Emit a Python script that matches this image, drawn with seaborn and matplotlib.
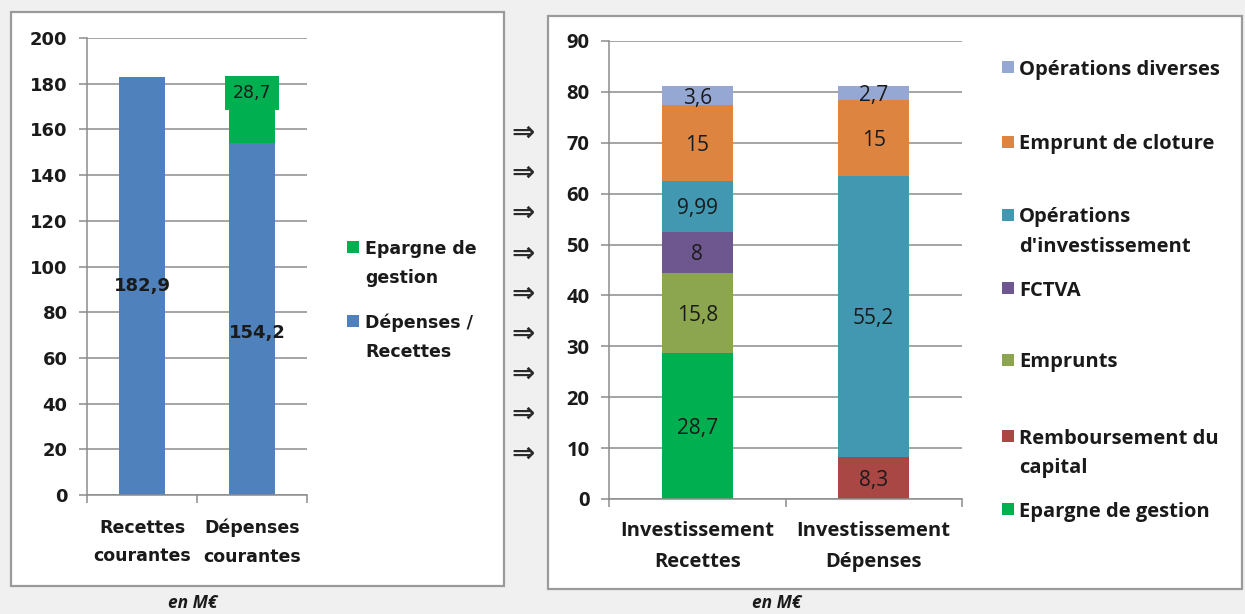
import matplotlib
matplotlib.use("Agg")
import matplotlib.pyplot as plt
from matplotlib.patches import Rectangle
import numpy as np
import seaborn as sns

sns.set_theme(style="white")
plt.rcParams["font.family"] = ["DejaVu Sans"]

# ---- Section de fonctionnement (M€) ----
fonct_categories = ["Recettes\ncourantes", "Dépenses\ncourantes"]
fonct_courant = [182.9, 154.2]          # Dépenses / Recettes
fonct_epargne = [0.0, 28.7]             # Epargne de gestion
fonct_legend = ["Epargne de\ngestion", "Dépenses /\nRecettes"]
fonct_colors = ["#00B050", "#4F81BD"]
fonct_yticks = [0, 20, 40, 60, 80, 100, 120, 140, 160, 180, 200]

# ---- Section d'investissement (M€), stacked bottom -> top ----
invest_categories = ["Investissement\nRecettes", "Investissement\nDépenses"]
epargne_gestion = [28.7, 0.0]
remboursement_capital = [0.0, 8.3]
emprunts = [15.8, 0.0]
fctva = [8.0, 0.0]
operations_invest = [9.99, 55.2]
emprunt_cloture = [15.0, 15.0]
operations_diverses = [3.6, 2.7]
invest_series = ["Epargne de gestion", "Remboursement du\ncapital", "Emprunts",
                 "FCTVA", "Opérations\nd'investissement", "Emprunt de cloture",
                 "Opérations diverses"]
invest_values = [epargne_gestion, remboursement_capital, emprunts, fctva,
                 operations_invest, emprunt_cloture, operations_diverses]
invest_colors = ["#00B050", "#A84744", "#8BA64E", "#6E578F", "#4298B0",
                 "#DD8441", "#95A8D4"]
invest_yticks = [0, 10, 20, 30, 40, 50, 60, 70, 80, 90]

W, H = 1245, 614
GRID = "#8c8c8c"
TXT = "#1a1a1a"
RIGHT_FONT = ["Open Sans", "DejaVu Sans"]


def fx(x):
    return x / W


def fy(y):
    return 1 - y / H


def fmt(v):
    return f"{v:g}".replace(".", ",")


fig = plt.figure(figsize=(W / 100, H / 100), dpi=100)
fig.patch.set_facecolor("#f0f0f0")

# panel frames
for (x0, y0, x1, y1) in [(11, 12, 504, 586), (548, 16, 1242, 589)]:
    fig.add_artist(Rectangle((fx(x0), fy(y1)), fx(x1 - x0), (y1 - y0) / H,
                             transform=fig.transFigure, facecolor="white",
                             edgecolor="#9a9a9a", linewidth=1.6, zorder=-5))


def style_axes(ax, ymax, yticks, ncat, font, ysize, xsize, xpad):
    ax.set_facecolor("none")
    ax.set_ylim(0, ymax)
    ax.set_xlim(-0.5, ncat - 0.5)
    ax.set_yticks(yticks)
    ax.yaxis.grid(True, color=GRID, linewidth=1.1)
    ax.xaxis.grid(False)
    ax.set_axisbelow(True)
    for side in ["top", "right"]:
        ax.spines[side].set_visible(False)
    for side in ["left", "bottom"]:
        ax.spines[side].set_color(GRID)
        ax.spines[side].set_linewidth(1.1)
    ax.tick_params(axis="y", left=True, length=6, width=1.1, color=GRID,
                   pad=8, labelsize=ysize, labelcolor=TXT)
    ax.set_xticks(np.arange(ncat))
    ax.set_xticks(np.arange(ncat + 1) - 0.5, minor=True)
    ax.tick_params(axis="x", which="major", bottom=False, length=0, pad=xpad,
                   labelsize=xsize, labelcolor=TXT)
    ax.tick_params(axis="x", which="minor", bottom=True, length=6, width=1.1,
                   color=GRID)
    for lab in ax.get_yticklabels() + ax.get_xticklabels():
        lab.set_fontweight("bold")
        lab.set_family(font)
    for lab in ax.get_xticklabels():
        lab.set_linespacing(1.75)
    ax.set_xlabel("")
    ax.set_ylabel("")


# ---- left chart ----
ax1 = fig.add_axes([fx(87), fy(495), fx(220), 457 / H])
sns.barplot(x=fonct_categories, y=fonct_courant, color=fonct_colors[1],
            saturation=1, width=0.41, linewidth=0, ax=ax1)
sns.barplot(x=fonct_categories, y=fonct_epargne, bottom=fonct_courant,
            color=fonct_colors[0], saturation=1, width=0.41, linewidth=0, ax=ax1)
style_axes(ax1, 200, fonct_yticks, 2, ["DejaVu Sans"], 13, 12.5, 17)

ax1.text(0, fonct_courant[0] / 2, fmt(fonct_courant[0]), ha="center",
         va="center", fontsize=13, fontweight="bold", color=TXT)
ax1.annotate(fmt(fonct_courant[1]), (1, fonct_courant[1] / 2),
             xytext=(4, -10), textcoords="offset points", ha="center",
             va="center", fontsize=13, fontweight="bold", color=TXT)
ax1.annotate(fmt(fonct_epargne[1]), (1, fonct_courant[1] + fonct_epargne[1] / 2),
             xytext=(0, 12), textcoords="offset points", ha="center",
             va="center", fontsize=12.5, color=TXT,
             bbox=dict(boxstyle="square,pad=0.45", facecolor=fonct_colors[0],
                       edgecolor="none"))

# left legend
for label, color, y in zip(fonct_legend, fonct_colors, [247, 321]):
    fig.add_artist(Rectangle((fx(347), fy(y + 6)), fx(12), 12 / H,
                             transform=fig.transFigure, facecolor=color,
                             edgecolor="none"))
    for k, line in enumerate(label.split("\n")):
        fig.text(fx(365), fy(y + 29 * k), line, ha="left",
                 va="center_baseline", fontsize=12.5, fontweight="bold",
                 color=TXT)

# ---- right chart ----
ax2 = fig.add_axes([fx(609), fy(499), fx(353), 458 / H])
bottom = np.zeros(len(invest_categories))
for name, vals, color in zip(invest_series, invest_values, invest_colors):
    sns.barplot(x=invest_categories, y=vals, bottom=bottom, color=color,
                saturation=1, width=0.4, linewidth=0, ax=ax2)
    for i, v in enumerate(vals):
        if v > 0:
            ax2.text(i, bottom[i] + v / 2, fmt(v), ha="center",
                     va="center_baseline", fontsize=15, color=TXT,
                     family=RIGHT_FONT)
    bottom = bottom + np.array(vals)
style_axes(ax2, 90, invest_yticks, 2, RIGHT_FONT, 14.5, 14.5, 16)

# right legend (top entry = last stacked series)
legend_y = [67, 142, 215, 288, 360, 436, 509]
for label, color, y in zip(invest_series[::-1], invest_colors[::-1], legend_y):
    fig.add_artist(Rectangle((fx(1002), fy(y + 6)), fx(12), 12 / H,
                             transform=fig.transFigure, facecolor=color,
                             edgecolor="none"))
    for k, line in enumerate(label.split("\n")):
        fig.text(fx(1019), fy(y + 29 * k), line, ha="left",
                 va="center_baseline", fontsize=14.5, fontweight="bold",
                 color=TXT, family=RIGHT_FONT)

# arrows between the two sections
for y in [133, 173, 213, 254, 294, 334, 374, 414, 454]:
    fig.text(fx(523), fy(y), "⇒", ha="center", va="center", fontsize=20,
             fontweight="bold", color="#2a2a2a")

# units
for x in [193, 777]:
    fig.text(fx(x), fy(603), "en M€", ha="center", va="center", fontsize=12.5,
             style="italic", fontweight="bold", color=TXT, family=RIGHT_FONT)

fig.savefig("out.png", dpi=100, facecolor=fig.get_facecolor())
